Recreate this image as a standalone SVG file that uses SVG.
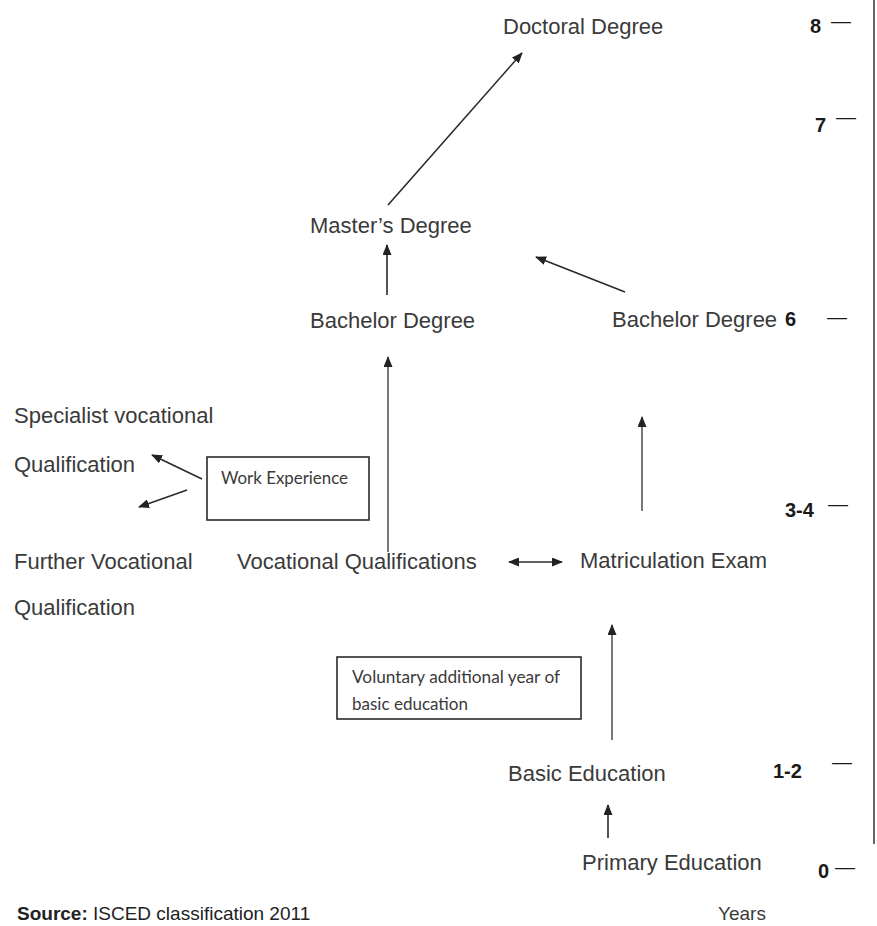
<svg xmlns="http://www.w3.org/2000/svg" width="877" height="926" viewBox="0 0 877 926">
<defs>
<marker id="ah" markerUnits="userSpaceOnUse" markerWidth="11" markerHeight="9" refX="10" refY="4.5" orient="auto-start-reverse" viewBox="0 0 11 9">
<path d="M0,0 L11,4.5 L0,9 z" fill="#222"/>
</marker>
<style>
.lbl{font-family:"Liberation Sans",Arial,sans-serif;font-size:22px;fill:#3a3a3a}
.num{font-family:"Liberation Sans",Arial,sans-serif;font-size:20px;font-weight:bold;fill:#1a1a1a}
.dash{font-family:"Liberation Sans",Arial,sans-serif;font-size:20px;fill:#1a1a1a}
.box{fill:#fff;stroke:#2a2a2a;stroke-width:1.6}
.btxt{font-family:Lato,"Open Sans",sans-serif;font-size:17px;fill:#3a3a3a}
.con line{stroke:#2a2a2a;stroke-width:1.6;marker-end:url(#ah)}
.scale{stroke:#555;stroke-width:1.8}
</style>
</defs>
<rect width="877" height="926" fill="#fff"/>

<g id="connectors" class="con">
<line x1="388" y1="205" x2="522" y2="53"/>
<line x1="387" y1="295" x2="387" y2="245"/>
<line x1="625" y1="292" x2="536" y2="257"/>
<line x1="388" y1="552" x2="388" y2="357" style="stroke:#555"/>
<line x1="642" y1="511" x2="642" y2="417" style="stroke:#555"/>
<line x1="202" y1="479" x2="152" y2="455"/>
<line x1="187" y1="490" x2="139" y2="507"/>
<line x1="509" y1="562" x2="562" y2="562" style="marker-start:url(#ah)"/>
<line x1="612" y1="740" x2="612" y2="625" style="stroke:#555"/>
<line x1="608" y1="838" x2="608" y2="805"/>
</g>

<g id="doctoral"><text class="lbl" x="503" y="34">Doctoral Degree</text></g>
<g id="masters"><text class="lbl" x="310" y="233">Master’s Degree</text></g>
<g id="bachelor-left"><text class="lbl" x="310" y="328">Bachelor Degree</text></g>
<g id="bachelor-right"><text class="lbl" x="612" y="327">Bachelor Degree</text></g>
<g id="specialist"><text class="lbl" x="14" y="423">Specialist vocational</text><text class="lbl" x="14" y="472">Qualification</text></g>
<g id="work-experience"><rect class="box" x="207" y="457" width="162" height="63"/><text class="btxt" x="221" y="484" textLength="127" lengthAdjust="spacingAndGlyphs">Work Experience</text></g>
<g id="further"><text class="lbl" x="14" y="569">Further Vocational</text><text class="lbl" x="14" y="615">Qualification</text></g>
<g id="vocational"><text class="lbl" x="237" y="569">Vocational Qualifications</text></g>
<g id="matriculation"><text class="lbl" x="580" y="568">Matriculation Exam</text></g>
<g id="voluntary"><rect class="box" x="337" y="657" width="244" height="62"/><text class="btxt" x="352" y="683" textLength="208" lengthAdjust="spacingAndGlyphs">Voluntary additional year of</text><text class="btxt" x="352" y="710" textLength="116" lengthAdjust="spacingAndGlyphs">basic education</text></g>
<g id="basic"><text class="lbl" x="508" y="781">Basic Education</text></g>
<g id="primary"><text class="lbl" x="582" y="870">Primary Education</text></g>

<g id="scale">
<line class="scale" x1="874" y1="0" x2="874" y2="844"/>
<text class="num" x="810" y="33">8</text><text class="dash" x="831" y="28">—</text>
<text class="num" x="815" y="132">7</text><text class="dash" x="836" y="124">—</text>
<text class="num" x="785" y="326">6</text><text class="dash" x="827" y="324">—</text>
<text class="num" x="785" y="517">3-4</text><text class="dash" x="828" y="511">—</text>
<text class="num" x="773" y="778">1-2</text><text class="dash" x="832" y="769">—</text>
<text class="num" x="818" y="878">0</text><text class="dash" x="835" y="874">—</text>
<text x="718" y="920" style="font-family:'Liberation Sans',Arial,sans-serif;font-size:19px;fill:#3a3a3a">Years</text>
</g>

<g id="source"><text x="17" y="920" style="font-family:'Liberation Sans',Arial,sans-serif;font-size:19px;fill:#222"><tspan font-weight="bold">Source:</tspan> ISCED classification 2011</text></g>
</svg>
